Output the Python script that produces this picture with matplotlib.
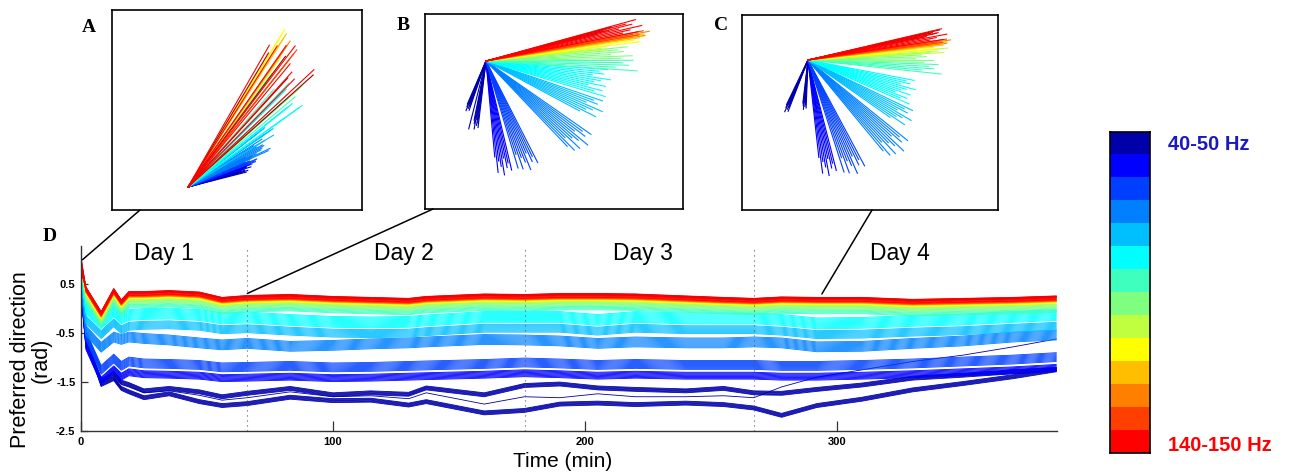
import numpy as np
import matplotlib
matplotlib.use('Agg')
import matplotlib.pyplot as plt
from matplotlib.colors import ListedColormap
from matplotlib.patches import ConnectionPatch

W, H = 1294, 473

t_min = [0, 2, 8, 13, 16, 19, 25, 35, 47, 56, 66, 83, 100, 115, 130, 137, 160,
         176, 190, 205, 220, 240, 255, 267, 278, 292, 310, 330, 350, 370, 387]

# group traces of preferred direction (rad)
pd_red = [0.95, 0.40, -0.10, 0.37, 0.14, 0.31, 0.31, 0.33, 0.30, 0.19, 0.23, 0.25, 0.21, 0.19, 0.17, 0.21,
          0.26, 0.25, 0.27, 0.27, 0.26, 0.22, 0.19, 0.17, 0.20, 0.19, 0.19, 0.15, 0.17, 0.19, 0.22]
pd_cyan = [0.70, 0.00, -0.30, -0.06, -0.20, -0.13, -0.11, -0.10, -0.13, -0.20, -0.18, -0.23, -0.27, -0.28, -0.27, -0.24,
           -0.17, -0.17, -0.17, -0.23, -0.17, -0.20, -0.20, -0.20, -0.23, -0.30, -0.29, -0.25, -0.22, -0.17, -0.13]
pd_b50 = [0.50, -0.45, -0.79, -0.58, -0.63, -0.58, -0.61, -0.64, -0.70, -0.74, -0.71, -0.77, -0.75, -0.72, -0.70, -0.68,
          -0.63, -0.64, -0.66, -0.71, -0.68, -0.70, -0.70, -0.68, -0.70, -0.78, -0.77, -0.71, -0.66, -0.58, -0.54]
pd_b25 = [0.45, -0.55, -1.25, -1.02, -1.17, -1.08, -1.12, -1.13, -1.15, -1.20, -1.19, -1.17, -1.20, -1.19, -1.17, -1.16,
          -1.13, -1.10, -1.12, -1.15, -1.13, -1.15, -1.15, -1.15, -1.17, -1.17, -1.15, -1.12, -1.08, -1.04, -0.99]
pd_dark1 = [0.40, -0.60, -1.48, -1.32, -1.50, -1.55, -1.68, -1.63, -1.70, -1.80, -1.73, -1.63, -1.76, -1.72, -1.75, -1.62,
            -1.76, -1.57, -1.54, -1.62, -1.65, -1.68, -1.63, -1.72, -1.73, -1.65, -1.56, -1.42, -1.36, -1.29, -1.24]
pd_dark2 = [0.35, -0.65, -1.55, -1.43, -1.63, -1.70, -1.82, -1.74, -1.90, -1.98, -1.94, -1.81, -1.88, -1.87, -1.97, -1.90,
            -2.13, -2.08, -1.95, -1.93, -1.96, -1.93, -1.96, -2.03, -2.18, -1.98, -1.85, -1.66, -1.53, -1.39, -1.25]
pd_stray = [0.33, -0.62, -1.50, -1.38, -1.55, -1.60, -1.72, -1.68, -1.77, -1.87, -1.82, -1.70, -1.80, -1.78, -1.84, -1.72,
            -1.95, -1.80, -1.82, -1.74, -1.80, -1.80, -1.78, -1.82, -1.60, -1.40, -1.25, -1.08, -0.95, -0.78, -0.62]
groups = {'red': pd_red, 'cyan': pd_cyan, 'b50': pd_b50, 'b25': pd_b25,
          'dark1': pd_dark1, 'dark2': pd_dark2, 'stray': pd_stray}

# jet colours of the 14 frequency bins (40-50 Hz on top, 140-150 Hz at the bottom)
bin_colors = [(0, 0, 0.67), (0, 0, 1), (0, 0.25, 1), (0, 0.5, 1), (0, 0.75, 1), (0, 1, 1),
              (0.25, 1, 0.75), (0.5, 1, 0.5), (0.75, 1, 0.25), (1, 1, 0), (1, 0.75, 0),
              (1, 0.5, 0), (1, 0.25, 0), (1, 0, 0)]
dark_red = (0.6, 0, 0)

# channel bands, drawn low frequency first
band_color = [bin_colors[0], bin_colors[0], bin_colors[0], bin_colors[1], bin_colors[2], bin_colors[3],
              bin_colors[4], bin_colors[5], bin_colors[6], bin_colors[7], bin_colors[8], bin_colors[9],
              bin_colors[10], bin_colors[11], bin_colors[12], dark_red, bin_colors[13]]
band_group = ['dark2', 'dark1', 'stray', 'b25', 'b25', 'b50', 'cyan', 'cyan', 'red', 'red', 'red', 'red',
              'red', 'red', 'red', 'red', 'red']
band_offset = [0, 0, 0, -0.22, 0, 0, -0.23, 0, -0.26, -0.17, -0.12, -0.09, -0.07, -0.06, -0.05, 0.02, 0]
band_spread = [0.08, 0.08, 0, 0.14, 0.18, 0.20, 0.16, 0.22, 0.07, 0.08, 0.03, 0.03, 0.02, 0.02, 0.02, 0.03, 0.08]
band_lines = [7, 7, 1, 9, 10, 11, 9, 12, 5, 6, 3, 3, 3, 3, 3, 4, 8]
# direction at t = 0 (snapshot A) and how widely each band fans out there
band_start = [0.30, 0.32, 0.33, 0.36, 0.42, 0.50, 0.62, 0.72, 0.80, 0.90, 1.00, 1.06, 1.04, 1.00, 0.95, 0.88, 0.90]
start_spread = [0.10, 0.10, 0, 0.10, 0.12, 0.15, 0.15, 0.20, 0.20, 0.35, 0.10, 0.08, 0.08, 0.08, 0.10, 0.30, 0.30]

# vector lengths in the three snapshots (px)
len_A = [60, 62, 62, 66, 72, 88, 100, 136, 140, 148, 160, 185, 182, 178, 175, 168, 172]
len_B = [52, 67, 70, 112, 114, 128, 123, 122, 147, 142, 125, 160, 160, 166, 160, 130, 155]
len_C = [55, 48, 50, 114, 120, 128, 116, 108, 130, 122, 140, 135, 140, 144, 140, 135, 137]
len_scale = [1.0, 0.93, 0.97, 0.88, 1.03, 0.95, 0.9, 1.0, 0.86, 0.98, 0.92, 1.02]

day_edges = [66, 176, 267]
day_names = ['Day 1', 'Day 2', 'Day 3', 'Day 4']
day_pos = [33, 128, 223, 325]
snap_idx = {'A': 0, 'B': 10, 'C': 25}


def box(x0, y0, x1, y1):
    return [x0 / W, 1 - y1 / H, (x1 - x0) / W, (y1 - y0) / H]


fig = plt.figure(figsize=(W / 100, H / 100), dpi=100)
sans = 'Liberation Sans'

# build every channel trace
traces = []
for i in range(len(band_group)):
    base = np.array(groups[band_group[i]]) + band_offset[i]
    n = band_lines[i]
    offs = np.linspace(-band_spread[i] / 2, band_spread[i] / 2, n)
    starts = np.linspace(-start_spread[i] / 2, start_spread[i] / 2, n)
    for j in range(n):
        y = base + offs[n - 1 - j]
        y[0] = band_start[i] + starts[(j * 3) % n] if n > 1 else band_start[i]
        traces.append((i, j, y))

# panel D
ax = fig.add_axes(box(81, 246, 1057, 431))
for i, j, y in traces:
    ax.plot(t_min, y, '-', color=band_color[i], lw=0.6, solid_joinstyle='round')
for d in day_edges:
    ax.axvline(d, color='0.35', ls=(0, (1, 3.5)), lw=0.8)
for x, name in zip(day_pos, day_names):
    ax.text(x, 1.13, name, ha='center', va='center', fontsize=16.5, family=sans)
ax.set_xlim(0, 387.3)
ax.set_ylim(-2.5, 1.28)
ax.set_xticks([0, 100, 200, 300])
ax.set_xticklabels(['0', '100', '200', '300'], fontweight='bold', fontsize=8, family=sans)
ax.set_yticks([0.5, -0.5, -1.5, -2.5])
ax.set_yticklabels(['0.5', '-0.5', '-1.5', '-2.5'], fontweight='bold', fontsize=8, family=sans)
ax.tick_params(axis='x', direction='in', length=7, width=0.9, pad=4, color='0.2')
ax.tick_params(axis='y', direction='in', length=5, width=0.9, pad=4, color='0.2')
for s in ['top', 'right']:
    ax.spines[s].set_visible(False)
for s in ['left', 'bottom']:
    ax.spines[s].set_color('0.2')
    ax.spines[s].set_linewidth(1.0)

fig.text(31 / W, 1 - 360 / H, 'Preferred direction\n(rad)', rotation=90, ha='center', va='center',
         fontsize=15.5, family=sans, multialignment='center', linespacing=1.0)
fig.text(563 / W, 1 - 461 / H, 'Time (min)', ha='center', va='center', fontsize=15, family=sans)

# snapshot panels A, B, C
insets = {
    'A': (box(112, 10, 362, 210), (188, 187)),
    'B': (box(425, 14, 683, 209), (486, 61)),
    'C': (box(742, 15, 998, 210), (808, 60)),
}
lengths = {'A': len_A, 'B': len_B, 'C': len_C}
inset_axes = {}
for key, (rect, (ox, oy)) in insets.items():
    ia = fig.add_axes(rect)
    k = snap_idx[key]
    for i, j, y in traces:
        L = lengths[key][i] * len_scale[j % len(len_scale)]
        ia.plot([0, L * np.cos(y[k])], [0, L * np.sin(y[k])], '-', color=band_color[i], lw=0.8)
    x0 = rect[0] * W
    x1 = (rect[0] + rect[2]) * W
    ytop = (1 - rect[1] - rect[3]) * H
    ybot = (1 - rect[1]) * H
    ia.set_xlim(x0 - ox, x1 - ox)
    ia.set_ylim(oy - ybot, oy - ytop)
    ia.set_xticks([])
    ia.set_yticks([])
    for s in ia.spines.values():
        s.set_linewidth(1.2)
    inset_axes[key] = ia

letters = {'A': (89, 27), 'B': (403, 25), 'C': (721, 25), 'D': (50, 236)}
for name, (lx, ly) in letters.items():
    fig.text(lx / W, 1 - ly / H, name, ha='center', va='center', fontsize=14,
             fontweight='bold', family='Liberation Serif')

# lines from the snapshots down to their moment in D
links = [('A', 0.112, (0.6, 1.0)), ('B', 0.031, (66, 0.31)), ('C', 0.508, (294, 0.30))]
for key, fx, pt in links:
    con = ConnectionPatch(xyA=(fx, 0), coordsA=inset_axes[key].transAxes, xyB=pt, coordsB=ax.transData,
                          color='k', lw=1.1)
    fig.add_artist(con)

# colour bar
cax = fig.add_axes(box(1110, 132, 1150, 453))
cax.imshow(np.arange(len(bin_colors))[:, None], cmap=ListedColormap(bin_colors), aspect='auto',
           interpolation='nearest')
cax.set_xticks([])
cax.set_yticks([])
for s in cax.spines.values():
    s.set_linewidth(1.2)
fig.text(1168 / W, 1 - 145 / H, '40-50 Hz', color=(0.1, 0.1, 0.75), fontsize=14.5, fontweight='bold',
         family=sans, va='center', ha='left')
fig.text(1168 / W, 1 - 445 / H, '140-150 Hz', color=(1, 0, 0), fontsize=14.5, fontweight='bold',
         family=sans, va='center', ha='left')

fig.savefig('out.png', dpi=100)
